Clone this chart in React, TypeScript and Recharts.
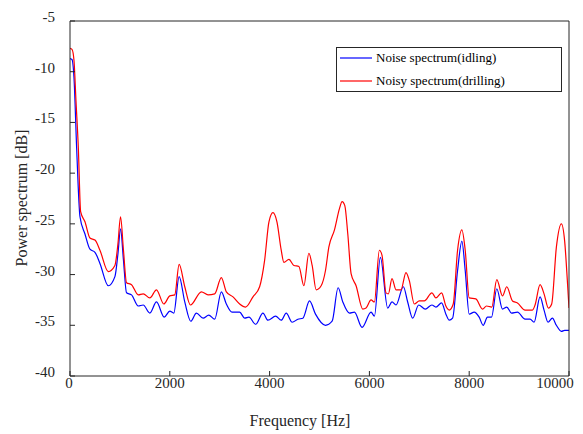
import React from 'react';
import { LineChart, Line, XAxis, YAxis } from 'recharts';

const drillFreq = [0, 40, 80, 120, 167, 213, 300, 400, 500, 600, 767, 900, 960, 1013, 1070, 1133, 1233, 1367, 1467, 1600, 1733, 1880, 2000, 2100, 2187, 2300, 2413, 2633, 2767, 2900, 3033, 3133, 3267, 3400, 3520, 3667, 3800, 3900, 3987, 4067, 4147, 4233, 4287, 4387, 4487, 4587, 4687, 4787, 4853, 4933, 5033, 5120, 5187, 5300, 5400, 5453, 5507, 5567, 5633, 5733, 5867, 5933, 6033, 6100, 6200, 6253, 6333, 6380, 6453, 6533, 6633, 6733, 6800, 6900, 7000, 7100, 7253, 7333, 7447, 7533, 7600, 7680, 7767, 7853, 7920, 8000, 8133, 8267, 8347, 8453, 8553, 8667, 8753, 8867, 8967, 9120, 9267, 9320, 9420, 9500, 9587, 9653, 9747, 9847, 9913, 9967, 10000];
const drillDb = [-7.7, -7.8, -8.9, -12.9, -17.5, -23.8, -24.8, -26.4, -26.6, -27.6, -29.7, -29.1, -27.0, -24.3, -27.5, -30.8, -31.0, -32.0, -31.9, -32.3, -31.5, -32.9, -32.1, -32.0, -29.0, -31.2, -33.0, -31.7, -32.0, -31.9, -30.3, -31.7, -32.2, -32.9, -33.2, -32.2, -31.2, -28.6, -24.8, -23.9, -24.8, -27.6, -28.8, -28.5, -29.1, -29.2, -31.1, -27.9, -29.1, -31.5, -31.1, -29.6, -27.3, -25.6, -23.5, -22.8, -23.2, -26.0, -29.9, -31.1, -33.4, -33.3, -32.5, -32.7, -27.6, -28.1, -31.8, -31.9, -30.4, -31.5, -31.5, -29.8, -30.6, -32.9, -32.6, -32.6, -31.8, -32.3, -31.8, -33.1, -33.5, -32.9, -27.6, -25.6, -27.6, -32.3, -32.4, -33.4, -33.1, -33.2, -30.5, -32.1, -31.2, -32.6, -32.8, -33.5, -33.5, -33.0, -31.0, -31.9, -33.3, -32.9, -27.3, -25.0, -26.7, -30.6, -33.3];

const idleFreq = [0, 40, 80, 133, 200, 300, 400, 500, 600, 767, 900, 960, 1013, 1070, 1133, 1233, 1367, 1467, 1600, 1733, 1887, 2000, 2080, 2187, 2300, 2420, 2533, 2667, 2780, 2900, 3033, 3133, 3247, 3400, 3500, 3587, 3720, 3867, 3967, 4120, 4233, 4333, 4453, 4567, 4667, 4800, 4920, 5120, 5253, 5373, 5467, 5600, 5700, 5853, 6033, 6100, 6220, 6367, 6453, 6533, 6680, 6767, 6867, 6987, 7120, 7253, 7333, 7447, 7533, 7600, 7667, 7767, 7853, 7920, 8000, 8100, 8200, 8280, 8367, 8447, 8553, 8667, 8753, 8847, 8967, 9120, 9220, 9300, 9420, 9500, 9580, 9667, 9747, 9847, 9913, 10000];
const idleDb = [-8.7, -8.8, -10.6, -17.5, -24.3, -26.0, -27.5, -27.8, -28.9, -31.1, -30.2, -28.0, -25.5, -28.5, -31.8, -32.0, -33.1, -33.0, -33.8, -32.7, -34.2, -33.6, -33.8, -30.2, -32.7, -34.6, -33.8, -34.3, -34.0, -34.4, -31.7, -32.9, -33.7, -33.7, -34.3, -34.2, -34.9, -33.8, -34.5, -34.1, -34.5, -33.8, -34.7, -34.4, -34.3, -32.6, -33.9, -35.0, -34.6, -31.3, -32.7, -33.8, -33.7, -35.2, -33.7, -34.1, -28.3, -33.3, -32.7, -33.0, -31.2, -32.7, -34.3, -33.0, -33.4, -33.0, -33.2, -32.8, -33.9, -34.5, -34.3, -29.6, -26.7, -29.6, -33.9, -33.7, -34.2, -35.0, -34.2, -34.2, -31.4, -33.4, -33.2, -33.8, -33.7, -34.4, -34.4, -34.7, -32.2, -33.5, -34.7, -34.3, -35.0, -35.6, -35.5, -35.5];

const xTicks = [0, 2000, 4000, 6000, 8000, 10000];
const yTicks = [-40, -35, -30, -25, -20, -15, -10, -5];
const seriesNames = ['Noise spectrum(idling)', 'Noisy spectrum(drilling)'];
const seriesColors = ['#0000ff', '#ff0000'];

const idleData = idleFreq.map((f, i) => ({ f, db: idleDb[i] }));
const drillData = drillFreq.map((f, i) => ({ f, db: drillDb[i] }));

const FONT = 'Liberation Serif';
const AX = '#262626';

const XTick = (props: any) => {
  const { x, y, payload } = props;
  const v = payload.value;
  const dx = v === 10000 ? -8 : v === 0 ? -1 : 0;
  return (
    <text x={x + dx} y={y} textAnchor="middle" dominantBaseline="central" style={{ fontFamily: FONT, fontSize: 15 }} fill={AX}>
      {v}
    </text>
  );
};

const YTick = (props: any) => {
  const { x, y, payload } = props;
  return (
    <text x={x} y={y - 4} textAnchor="end" dominantBaseline="central" style={{ fontFamily: FONT, fontSize: 15 }} fill={AX}>
      {payload.value}
    </text>
  );
};

const LegendBox = () => (
  <div
    style={{
      position: 'absolute',
      left: 336,
      top: 47,
      width: 226,
      height: 45,
      border: `1px solid ${AX}`,
      background: '#fff',
      boxSizing: 'border-box',
      fontFamily: FONT,
      fontSize: 13,
      color: '#000',
    }}
  >
    {seriesNames.map((n, i) => (
      <div key={n} style={{ position: 'absolute', left: 3, top: i === 0 ? 2 : 25, height: 16, display: 'flex', alignItems: 'center', whiteSpace: 'nowrap' }}>
        <svg width={32} height={4} style={{ marginRight: 4 }}>
          <line x1={0} y1={2} x2={32} y2={2} stroke={seriesColors[i]} strokeWidth={1.2} />
        </svg>
        <span>{n}</span>
      </div>
    ))}
  </div>
);

export default function App() {
  return (
    <div style={{ position: 'absolute', left: 0, top: 0, width: 583, height: 434, background: '#fff' }}>
      <LineChart width={583} height={434} margin={{ top: 20, right: 13, bottom: 28, left: 0 }}>
        <XAxis
          xAxisId="b"
          type="number"
          dataKey="f"
          domain={[0, 10000]}
          ticks={xTicks}
          allowDataOverflow
          height={30}
          stroke={AX}
          tickSize={-5}
          tickMargin={12}
          tick={<XTick />}
          label={{
            content: () => (
              <text x={300} y={420} textAnchor="middle" dominantBaseline="central" style={{ fontFamily: FONT, fontSize: 16 }} fill={AX}>
                Frequency [Hz]
              </text>
            ),
          }}
        />
        <XAxis xAxisId="t" orientation="top" type="number" dataKey="f" domain={[0, 10000]} ticks={xTicks} allowDataOverflow height={1} stroke={AX} tickSize={-5} tick={false} />
        <YAxis
          yAxisId="l"
          type="number"
          domain={[-40, -5]}
          ticks={yTicks}
          allowDataOverflow
          width={70}
          stroke={AX}
          tickSize={-5}
          tickMargin={20}
          tick={<YTick />}
          label={{
            content: () => (
              <text x={21} y={198} transform="rotate(-90 21 198)" textAnchor="middle" dominantBaseline="central" style={{ fontFamily: FONT, fontSize: 16 }} fill={AX}>
                Power spectrum [dB]
              </text>
            ),
          }}
        />
        <YAxis yAxisId="r" orientation="right" type="number" domain={[-40, -5]} ticks={yTicks} allowDataOverflow width={1} stroke={AX} tickSize={-5} tick={false} />
        <Line xAxisId="t" yAxisId="r" data={idleData} dataKey="db" stroke="none" dot={false} legendType="none" isAnimationActive={false} />
        <Line xAxisId="b" yAxisId="l" data={idleData} dataKey="db" name={seriesNames[0]} type="monotone" stroke={seriesColors[0]} strokeWidth={1.2} dot={false} isAnimationActive={false} />
        <Line xAxisId="b" yAxisId="l" data={drillData} dataKey="db" name={seriesNames[1]} type="monotone" stroke={seriesColors[1]} strokeWidth={1.2} dot={false} isAnimationActive={false} />
      </LineChart>
      <LegendBox />
    </div>
  );
}
